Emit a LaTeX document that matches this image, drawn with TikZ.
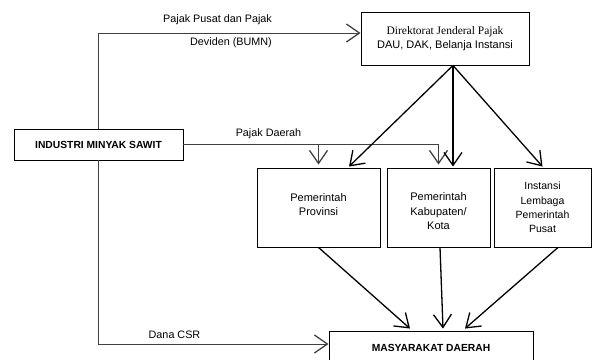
\documentclass[tikz,border=0pt]{standalone}
\usepackage{fontspec}
\setmainfont{Liberation Sans}
\newfontfamily\djpfont{Liberation Serif}
\usepackage{tikz}
\usetikzlibrary{arrows.meta,positioning,calc}

\begin{document}
\begin{tikzpicture}[x=1pt,y=-1pt,>={Straight Barb[length=13pt,width=18pt,line width=1.3pt]},
	box/.style={draw=black,line width=0.9pt,rectangle,inner sep=0pt,align=center,font=\fontsize{11}{14.5}\selectfont},
	capsbox/.style={box,font=\fontsize{10.3}{12}\selectfont\bfseries},
	flow/.style={line width=1.3pt,->},
	grayflow/.style={line width=1pt,draw=black!75},
	lbl/.style={inner sep=0pt,font=\fontsize{10.8}{12}\selectfont}]

	\useasboundingbox (0,0) rectangle (593,359);

	% Draw the boxes
	\node[box,minimum width=168pt,minimum height=53pt] (djp) at (445,38.5)
		{{\djpfont\fontsize{11.5}{15}\selectfont Direktorat Jenderal Pajak}\\DAU, DAK, Belanja Instansi};
	\node[capsbox,minimum width=169pt,minimum height=31pt] (industri) at (98.5,144.5) {INDUSTRI MINYAK SAWIT};
	\node[box,minimum width=123pt,minimum height=79pt] (prov) at (318.5,207.5) {Pemerintah\\Provinsi\rule[-6pt]{0pt}{0pt}};
	\node[box,minimum width=103pt,minimum height=79pt] (kab) at (438.5,207.5) {\rule{0pt}{16pt}Pemerintah\\Kabupaten/\\Kota};
	\node[box,minimum width=97pt,minimum height=79pt,font=\fontsize{10.5}{14.2}\selectfont] (inst) at (542.5,207.5) {Instansi\\Lembaga\\Pemerintah\\Pusat};
	\node[capsbox,minimum width=204pt,minimum height=34pt] (masy) at (431,348) {MASYARAKAT DAERAH};

	% Draw the tax flows from the industry
	\draw[grayflow,->] (industri.north) |- ([yshift=5.5pt]djp.west);
	\node[lbl] (lblpusat) at (217.5,20) {Pajak Pusat dan Pajak};
	\node[lbl] (lbldeviden) at (231,43) {Deviden (BUMN)};

	\draw[grayflow,->] (industri.east) -| ([yshift=3pt]kab.north);
	\draw[grayflow,->] (industri.east -| prov.north) -- ([yshift=3pt]prov.north);
	\node[lbl] (lbldaerah) at (268.5,134) {Pajak Daerah};

	\draw[grayflow,->] (industri.south) |- ([yshift=4pt]masy.west);
	\node[lbl] (lblcsr) at (174.5,335) {Dana CSR};

	% Draw the transfers from the directorate
	\draw[flow] ([xshift=8pt]djp.south) -- ([xshift=30.5pt,yshift=1pt]prov.north);
	\draw[flow] ([xshift=8pt]djp.south) -- ([xshift=14.5pt,yshift=1pt]kab.north);
	\draw[flow] ([xshift=8pt]djp.south) -- ([yshift=1pt]inst.north);

	% Draw the flows to the society
	\draw[flow] (prov.south) -- ([xshift=-21pt,yshift=2pt]masy.north);
	\draw[flow] ([xshift=1.5pt]kab.south) -- ([xshift=12pt,yshift=2pt]masy.north);
	\draw[flow] ([xshift=15.5pt]inst.south) -- ([xshift=34pt,yshift=2pt]masy.north);
\end{tikzpicture}
\end{document}
